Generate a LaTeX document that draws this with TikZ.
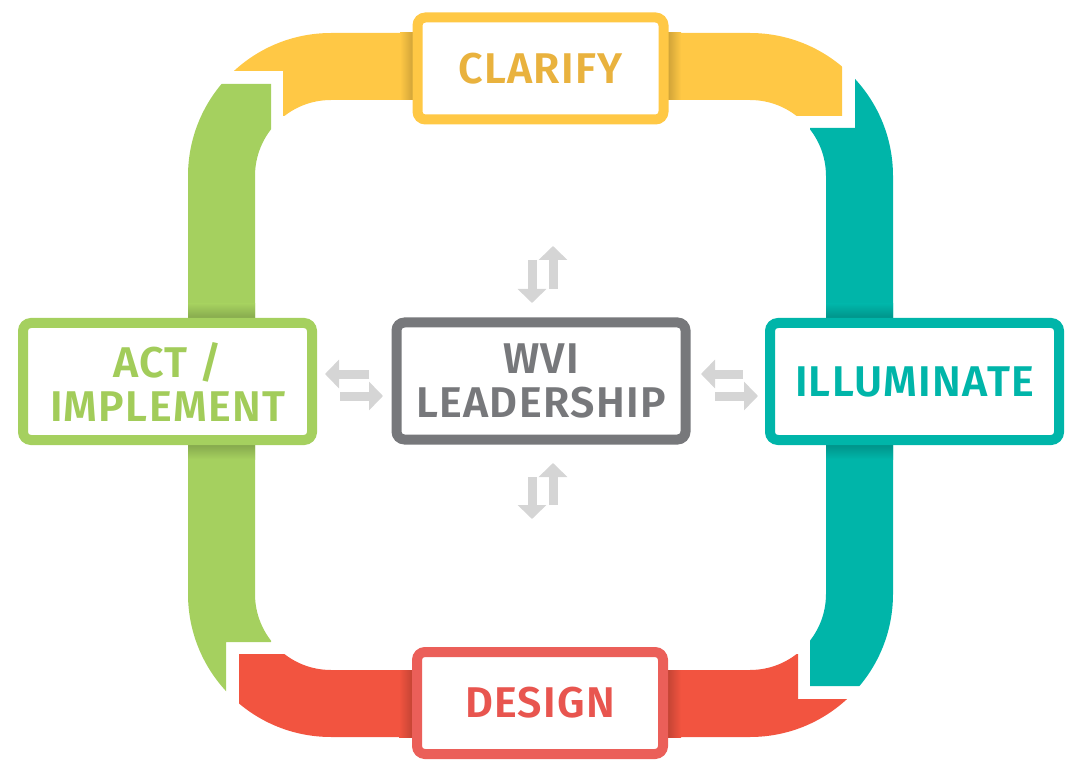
\documentclass[tikz,border=0pt]{standalone}
\usepackage{fontspec}
\setmainfont{Fira Sans}[BoldFont={Fira Sans SemiBold}]
\usepackage{xcolor}
\definecolor{cYellow}{HTML}{FFC845}
\definecolor{cYellowTxt}{HTML}{E9B23E}
\definecolor{cTeal}{HTML}{00B5A9}
\definecolor{cRed}{HTML}{F25440}
\definecolor{cRedBox}{HTML}{EB5F59}
\definecolor{cRedTxt}{HTML}{E8554F}
\definecolor{cGreen}{HTML}{A5D05F}
\definecolor{cGreenTxt}{HTML}{A2CC5A}
\definecolor{cGray}{HTML}{77787B}
\definecolor{cArrow}{HTML}{D5D5D5}
\usetikzlibrary{arrows.meta,calc}
\tikzset{
  node-box/.style={draw,fill=white,line width=10pt,rounded corners=8pt,
    minimum width=246pt,minimum height=102pt,align=center,inner sep=0pt,
    font=\fontsize{43}{44}\selectfont\bfseries\addfontfeature{LetterSpace=3}},
  node-wide/.style={node-box,minimum width=289pt,minimum height=117pt},
  node-yellow/.style={draw=cYellow,text=cYellowTxt},
  node-teal/.style={draw=cTeal,text=cTeal},
  node-red/.style={draw=cRedBox,text=cRedTxt},
  node-green/.style={draw=cGreen,text=cGreenTxt},
  node-gray/.style={draw=cGray,text=cGray},
  arrow-duo/.style={-{Triangle[width=28pt,length=14pt]},line width=9pt,draw=cArrow},
}

\begin{document}
\begin{tikzpicture}[x=1pt,y=-1pt]
  \useasboundingbox (0,0) rectangle (1080,778);
  % ring cut into four bands
  \begin{scope}
    \clip (0,0) -- (842,0) -- (842,116) -- (283,116) -- (283,71) -- (0,71) -- cycle;
    \fill[cYellow,even odd rule] [rounded corners=143pt] (188,33) rectangle (893,737)
      [rounded corners=76pt] (255,100) rectangle (826,670);
  \end{scope}
  \begin{scope}
    \clip (810,128) -- (855,128) -- (855,0) -- (1080,0) -- (1080,686) -- (810,686) -- cycle;
    \fill[cTeal,even odd rule] [rounded corners=143pt] (188,33) rectangle (893,737)
      [rounded corners=76pt] (255,100) rectangle (826,670);
  \end{scope}
  \begin{scope}
    \clip (239,654) -- (798,654) -- (798,699) -- (1080,699) -- (1080,778) -- (239,778) -- cycle;
    \fill[cRed,even odd rule] [rounded corners=143pt] (188,33) rectangle (893,737)
      [rounded corners=76pt] (255,100) rectangle (826,670);
  \end{scope}
  \begin{scope}
    \clip (0,84) -- (271,84) -- (271,642) -- (226,642) -- (226,778) -- (0,778) -- cycle;
    \fill[cGreen,even odd rule] [rounded corners=143pt] (188,33) rectangle (893,737)
      [rounded corners=76pt] (255,100) rectangle (826,670);
  \end{scope}
  % shadows under the boxes
  \shade[left color=cYellow,right color=cYellow!80!black] (400,33) rectangle (414,100);
  \shade[left color=cYellow!80!black,right color=cYellow] (667,33) rectangle (681,100);
  \shade[left color=cRed,right color=cRed!80!black] (399,670) rectangle (413,737);
  \shade[left color=cRed!80!black,right color=cRed] (667,670) rectangle (681,737);
  \shade[top color=cGreen,bottom color=cGreen!80!black] (188,304) rectangle (255,319);
  \shade[top color=cGreen!80!black,bottom color=cGreen] (188,444) rectangle (255,459);
  \shade[top color=cTeal,bottom color=cTeal!80!black] (826,304) rectangle (893,319);
  \shade[top color=cTeal!80!black,bottom color=cTeal] (826,444) rectangle (893,459);

  \node[node-box,node-yellow] (clarify) at (540.5,68.5) {CLARIFY};
  \node[node-box,node-red] (design) at (540,703) {DESIGN};
  \node[node-wide,node-green] (act) at (167.5,381.5) {ACT /\\IMPLEMENT};
  \node[node-wide,node-teal] (illum) at (914.5,381.5) {ILLUMINATE};
  \node[node-wide,node-gray] (lead) at (541,381) {WVI\\LEADERSHIP};

  \coordinate (top-dn-a) at (532,260);  \coordinate (top-dn-b) at (532,303);
  \coordinate (top-up-a) at (553,289);  \coordinate (top-up-b) at (553,246);
  \coordinate (bot-dn-a) at (532,477);  \coordinate (bot-dn-b) at (532,519);
  \coordinate (bot-up-a) at (553,505);  \coordinate (bot-up-b) at (553,463);
  \coordinate (lft-l-a) at (369,374);   \coordinate (lft-l-b) at (325,374);
  \coordinate (lft-r-a) at (340,396);   \coordinate (lft-r-b) at (383,396);
  \coordinate (rgt-l-a) at (743,374);   \coordinate (rgt-l-b) at (701,374);
  \coordinate (rgt-r-a) at (715,396);   \coordinate (rgt-r-b) at (758,396);
  \foreach \a/\b in {top-dn-a/top-dn-b,top-up-a/top-up-b,bot-dn-a/bot-dn-b,bot-up-a/bot-up-b,
      lft-l-a/lft-l-b,lft-r-a/lft-r-b,rgt-l-a/rgt-l-b,rgt-r-a/rgt-r-b}
    \draw[arrow-duo] (\a) -- (\b);
\end{tikzpicture}
\end{document}
